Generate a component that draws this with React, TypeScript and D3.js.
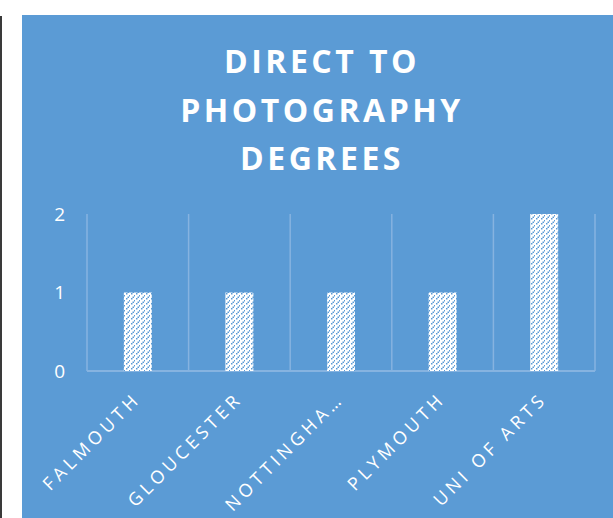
import React from "react";
import * as d3 from "d3";

const categories = ["FALMOUTH", "GLOUCESTER", "NOTTINGHA…", "PLYMOUTH", "UNI OF ARTS"];
const values = [1, 1, 1, 1, 2];
const yTicks = [0, 1, 2];
const titleLines = ["DIRECT TO", "PHOTOGRAPHY", "DEGREES"];

const W = 613;
const H = 518;
const BG = "#5B9BD5";
const GRID = "#86b3e0";

export default function App() {
  const x = d3.scaleBand<string>().domain(categories).range([87, 595]).padding(0);
  const y = d3.scaleLinear().domain([0, 2]).range([371, 214]);
  const bw = x.bandwidth() * 0.275;

  return (
    <div style={{ position: "fixed", left: 0, top: 0 }}>
      <svg width={W} height={H} style={{ display: "block" }} fontFamily="'Open Sans', sans-serif">
        <defs>
          <pattern id="diag" width={5} height={5} patternUnits="userSpaceOnUse">
            <rect width={5} height={5} fill="#ffffff" />
            <rect x={4} y={0} width={1.5} height={1.5} fill={BG} />
            <rect x={2.5} y={1.5} width={1.5} height={1.5} fill={BG} />
            <rect x={1} y={3} width={1.5} height={1.5} fill={BG} />
          </pattern>
        </defs>
        <rect x={0} y={0} width={W} height={H} fill="#ffffff" />
        <rect x={0} y={16} width={2} height={H - 16} fill="#3a3a3a" />
        <rect x={22} y={15} width={W - 22} height={H - 15} fill={BG} />

        {titleLines.map((t, i) => (
          <text
            key={t}
            x={322}
            y={73 + i * 48.5}
            textAnchor="middle"
            fill="#ffffff"
            fontSize={32}
            fontWeight={700}
            letterSpacing={3.5}
          >
            {t}
          </text>
        ))}

        {categories.map((c) => (
          <line key={c} x1={x(c)!} x2={x(c)!} y1={y(2)} y2={y(0)} stroke={GRID} strokeWidth={1.5} />
        ))}
        <line x1={595} x2={595} y1={y(2)} y2={y(0)} stroke={GRID} strokeWidth={1.5} />
        <line x1={87} x2={595} y1={y(0)} y2={y(0)} stroke={GRID} strokeWidth={2} />

        {yTicks.map((t) => (
          <text key={t} x={65} y={y(t)} dy="0.36em" textAnchor="end" fill="#ffffff" fontSize={19}>
            {t}
          </text>
        ))}

        {categories.map((c, i) => {
          const cx = x(c)! + x.bandwidth() / 2;
          return (
            <rect
              key={c}
              x={cx - bw / 2}
              y={y(values[i])}
              width={bw}
              height={y(0) - y(values[i])}
              fill="url(#diag)"
            />
          );
        })}

        {categories.map((c) => {
          const cx = x(c)! + x.bandwidth() / 2;
          return (
            <text
              key={c}
              transform={`translate(${cx + 4},${400}) rotate(-45)`}
              textAnchor="end"
              fill="#ffffff"
              fontSize={18}
              letterSpacing={4.1}
            >
              {c}
            </text>
          );
        })}
      </svg>
    </div>
  );
}
